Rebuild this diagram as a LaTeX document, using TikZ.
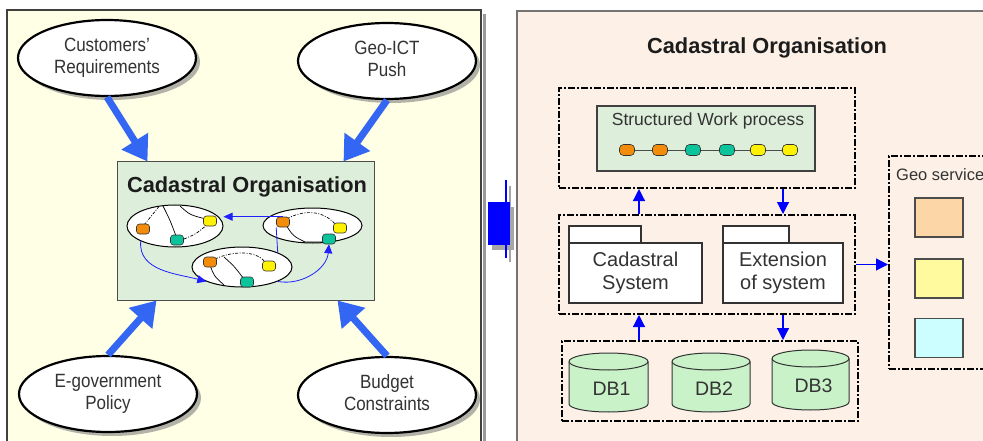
\documentclass[tikz,border=0pt]{standalone}
\usepackage{fontspec}
\setmainfont{Liberation Sans}
\usetikzlibrary{arrows.meta,shapes.geometric,shadows,calc}

\definecolor{leftbg}{HTML}{FFFFE6}
\definecolor{rightbg}{HTML}{FDF1E7}
\definecolor{orgfill}{HTML}{DDEEDA}
\definecolor{arrowblue}{HTML}{3366F2}
\definecolor{linkblue}{HTML}{2020FF}
\definecolor{dotorange}{HTML}{F28C0A}
\definecolor{dotteal}{HTML}{0CC49C}
\definecolor{dotyellow}{HTML}{FFF200}
\definecolor{dbfill}{HTML}{C9F2C9}
\definecolor{svcorange}{HTML}{FCD6A6}
\definecolor{svcyellow}{HTML}{FFFA9E}
\definecolor{svccyan}{HTML}{CCFDFF}
\definecolor{txt}{HTML}{333333}
\definecolor{titletxt}{HTML}{1C1C1C}

% two-line label, set slightly taller than the plain face
\newcommand\tallpair[2]{\scalebox{1}[1.13]{\begin{tabular}{@{}c@{}}#1\\[-1pt]#2\end{tabular}}}

\tikzset{
  bigell/.style={ellipse, draw=black, line width=2.2pt, fill=white,
    minimum width=178pt, minimum height=76pt, inner sep=0pt, align=center,
    font=\fontsize{17}{20}\selectfont, text=txt,
    drop shadow={shadow xshift=4pt, shadow yshift=-4pt, fill=black!50, opacity=.6}},
  thickarrow/.style={draw=arrowblue, line width=7pt, -{Triangle[width=30pt,length=24pt]}},
  orgbox/.style={rectangle, draw=black!70, line width=1pt, fill=orgfill, inner sep=0pt},
  orgtitle/.style={font=\bfseries\fontsize{21.8}{26}\selectfont, text=titletxt, inner sep=0pt},
  minell/.style={ellipse, draw=black, line width=1pt, fill=white, inner sep=0pt},
  procdot/.style={rectangle, rounded corners=3pt, draw=black!80, line width=0.6pt,
    minimum width=13pt, minimum height=10pt, inner sep=0pt},
  inlink/.style={black, line width=0.7pt},
  indash/.style={black, line width=0.7pt, dash pattern=on 3pt off 1.5pt on 1pt off 1.5pt},
  linkarrow/.style={draw=linkblue, line width=0.8pt, -{Triangle[width=8pt,length=9pt]}},
  dashbox/.style={rectangle, draw=black, line width=2pt,
    dash pattern=on 7pt off 2pt on 2pt off 2pt, inner sep=0pt},
  greenbox/.style={rectangle, draw=black!75, line width=1.2pt, fill=orgfill, inner sep=0pt},
  pkgpart/.style={rectangle, draw=black!80, line width=1.2pt, fill=white, inner sep=0pt,
    align=center, font=\fontsize{20}{23}\selectfont, text=txt},
  svcbox/.style={rectangle, draw=black!70, line width=1.2pt, inner sep=0pt,
    minimum width=48pt, minimum height=39pt},
  flowarrow/.style={draw=blue, line width=1.2pt, -{Triangle[width=12pt,length=12pt]}},
  cylbody/.style={draw=black!80, line width=1pt, fill=dbfill},
  plain/.style={font=\fontsize{17.5}{20}\selectfont, text=txt, inner sep=0pt},
}

\begin{document}
\begin{tikzpicture}[x=1pt,y=1pt]
\useasboundingbox (0,0) rectangle (983,-441);

% ---------------- left panel ----------------
\fill[leftbg] (7,-10) rectangle (481,-450);
\draw[black!40, line width=2.5pt] (484.5,-14) -- (484.5,-450);
\draw[black!75, line width=1.3pt] (7,-450) -- (7,-10) -- (481,-10) -- (481,-450);

\node[bigell] (cust)   at (107,-58)  {\tallpair{Customers'}{Requirements}};
\node[bigell] (geoict) at (387,-61)  {\tallpair{Geo-ICT}{Push}};
\node[bigell] (egov)   at (108,-394) {\tallpair{E-government}{Policy}};
\node[bigell] (budget) at (387,-395) {\tallpair{Budget}{Constraints}};

\node[orgbox, minimum width=257pt, minimum height=138pt] (org) at (245.5,-231) {};
\node[orgtitle, anchor=base] (orgname) at (247,-193) {Cadastral Organisation};

\draw[thickarrow] (cust.south)   -- ([xshift=31pt]org.north west);
\draw[thickarrow] (geoict.south) -- ([xshift=-31pt]org.north east);
\draw[thickarrow] (egov.north)   -- ([xshift=40pt]org.south west);
\draw[thickarrow] (budget.north) -- ([xshift=-37pt]org.south east);

% three small process ellipses
\node[minell, minimum width=96pt, minimum height=42pt] (ellA) at (175,-226) {};
\node[minell, minimum width=99pt, minimum height=35pt] (ellB) at (312.5,-225.5) {};
\node[minell, minimum width=100pt, minimum height=40pt] (ellC) at (242,-267) {};

% internal links of ellipse A
\draw[indash] (144,-225) .. controls (152,-215) .. (159,-206.5);
\draw[inlink] (163,-206) .. controls (170,-220) .. (176,-236);
\draw[inlink] (180,-206) .. controls (190,-215) .. (206,-219);
\draw[indash] (184,-239) .. controls (196,-234) .. (208,-224);
% internal links of ellipse B
\draw[indash] (287,-219) .. controls (300,-211) and (322,-208) .. (336,-225);
\draw[inlink] (286,-225) .. controls (293,-236) .. (305,-242) -- (324,-242);
% internal links of ellipse C
\draw[indash] (215,-259) .. controls (232,-251) and (256,-250) .. (265,-262);
\draw[inlink] (210,-265) .. controls (214,-276) .. (224,-285);
\draw[inlink] (224,-257) .. controls (234,-266) .. (244,-279);

% state dots
\node[procdot, fill=dotorange] (a1) at (143,-229) {};
\node[procdot, fill=dotyellow] (a2) at (210,-221) {};
\node[procdot, fill=dotteal]   (a3) at (177,-240) {};
\node[procdot, fill=dotorange] (b1) at (283,-222) {};
\node[procdot, fill=dotyellow] (b2) at (340,-228) {};
\node[procdot, fill=dotteal]   (b3) at (329,-239) {};
\node[procdot, fill=dotorange] (c1) at (210,-262) {};
\node[procdot, fill=dotyellow] (c2) at (269,-266) {};
\node[procdot, fill=dotteal]   (c3) at (247,-282) {};

% flow between the process ellipses
\draw[linkarrow] (b1.north) -- (ellA.east |- b1.north);
\draw[draw=linkblue, line width=0.8pt] (b1.south west) -- (ellC.north east);
\draw[linkarrow] (ellA.south west) to[out=-95,in=165] (ellC.south west);
\draw[linkarrow] (ellC.south east) to[out=-10,in=-95] (b3.south);

% ---------------- transition arrow ----------------
\fill[black!35] (492,-207) rectangle (514,-250);
\draw[black!35, line width=1.5pt] (510,-186) -- (510,-262);
\node[rectangle, fill=blue, minimum width=22pt, minimum height=43pt, inner sep=0pt] (handover) at (499,-223.5) {};
\draw[blue, line width=1.5pt] ($(handover.north east)+(-4,22)$) -- ($(handover.south east)+(-4,-13)$);

% ---------------- right panel ----------------
\fill[rightbg] (517,-11) rectangle (995,-450);
\draw[black!55, line width=1.2pt] (517,-450) -- (517,-11) -- (995,-11);

\node[orgtitle] (rtitle) at (767,-48) {Cadastral Organisation};

% work process block
\node[dashbox, minimum width=296pt, minimum height=100pt] (box1) at (707,-138) {};
\node[greenbox, minimum width=218pt, minimum height=65pt] (swp) at (706,-138.5) {};
\node[plain] (swptitle) at (708,-121) {Structured Work process};
\node[procdot, minimum width=15pt, minimum height=11pt, rounded corners=4pt, fill=dotorange] (w1) at (627,-150) {};
\node[procdot, minimum width=15pt, minimum height=11pt, rounded corners=4pt, fill=dotorange] (w2) at (660,-150) {};
\node[procdot, minimum width=15pt, minimum height=11pt, rounded corners=4pt, fill=dotteal]   (w3) at (693,-150) {};
\node[procdot, minimum width=15pt, minimum height=11pt, rounded corners=4pt, fill=dotteal]   (w4) at (727,-150) {};
\node[procdot, minimum width=15pt, minimum height=11pt, rounded corners=4pt, fill=dotyellow] (w5) at (758,-150) {};
\node[procdot, minimum width=15pt, minimum height=11pt, rounded corners=4pt, fill=dotyellow] (w6) at (790,-150) {};
\draw[black!70, line width=0.8pt] (w1) -- (w2) (w2) -- (w3) (w3) -- (w4) (w4) -- (w5) (w5) -- (w6);

% systems block
\node[dashbox, minimum width=296pt, minimum height=99pt] (box2) at (707,-264.5) {};
\node[pkgpart, minimum width=72pt, minimum height=17pt] (cadtab) at (605,-234.5) {};
\node[pkgpart, minimum width=133pt, minimum height=60pt] (cadbody) at (635.5,-273) {Cadastral\\System};
\node[pkgpart, minimum width=66pt, minimum height=17pt] (exttab) at (756,-234.5) {};
\node[pkgpart, minimum width=120pt, minimum height=60pt] (extbody) at (783,-273) {Extension\\of system};

% database block
\node[dashbox, minimum width=296pt, minimum height=80pt] (box3) at (710,-381) {};
\foreach \cx/\rx/\ct/\cb/\nm/\lbl/\ly in {608.5/39.5/353/412/db1/DB1/389, 711/39/353/412/db2/DB2/389, 810.5/38.5/350/410/db3/DB3/386}{
  \path[cylbody] ({\cx-\rx},{-(\ct+8.5)}) -- ({\cx-\rx},{-(\cb-8)})
     arc[start angle=180, end angle=360, x radius=\rx, y radius=8]
     -- ({\cx+\rx},{-(\ct+8.5)})
     arc[start angle=0, end angle=180, x radius=\rx, y radius=8.5] -- cycle;
  \draw[draw=black!80, line width=1pt] ({\cx-\rx},{-(\ct+8.5)})
     arc[start angle=180, end angle=360, x radius=\rx, y radius=8.5];
  \node[font=\fontsize{19.5}{23}\selectfont, text=txt, inner sep=0pt] (\nm) at ({\cx+3},-\ly) {\lbl};
}

% geo services block
\node[dashbox, minimum width=106pt, minimum height=213pt] (geosvc) at (942,-262.5) {};
\node[plain, anchor=west, font=\fontsize{16.5}{20}\selectfont] (geoname) at (896,-175) {Geo service};
\node[svcbox, fill=svcorange] (sq1) at (939,-217.5) {};
\node[svcbox, fill=svcyellow] (sq2) at (939,-278.5) {};
\node[svcbox, fill=svccyan]   (sq3) at (939,-338) {};

% flows between blocks
\coordinate (upx) at (639,0);
\coordinate (dnx) at (783,0);
\draw[flowarrow] (box2.north -| upx) -- (box1.south -| upx);
\draw[flowarrow] (box1.south -| dnx) -- (box2.north -| dnx);
\draw[flowarrow] (box3.north -| upx) -- (box2.south -| upx);
\draw[flowarrow] (box2.south -| dnx) -- (box3.north -| dnx);
\draw[flowarrow] (box2.east) -- (geosvc.west |- box2.east);
\end{tikzpicture}
\end{document}
